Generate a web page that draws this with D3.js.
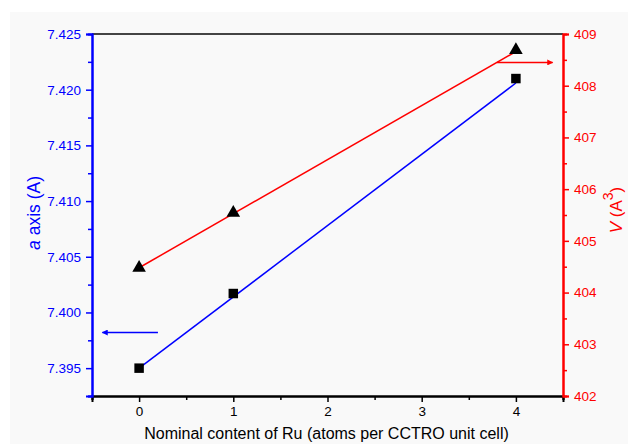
<!DOCTYPE html>
<html>
<head>
<meta charset="utf-8">
<script src="https://cdn.jsdelivr.net/npm/d3@7/dist/d3.min.js"></script>
<style>
  html, body { margin: 0; padding: 0; background: #ffffff; }
  svg { display: block; font-family: "Liberation Sans", Arial, sans-serif; }
</style>
</head>
<body>
<svg id="chart" width="628" height="444"></svg>
<script>
// Ru content (atoms per CCTRO unit cell)
const ruContent = [0, 1, 4];
// lattice parameter a (Å)
const aAxis = [7.3950, 7.4017, 7.4210];
// unit-cell volume V (Å^3)
const volume = [404.48, 405.54, 408.69];
// linear-fit end points over x = 0..4
const fitX = [0, 4];
const aFit = [7.3950, 7.4206];
const vFit = [404.48, 408.66];

const xTicks = [0, 1, 2, 3, 4];
const aTicks = [7.395, 7.400, 7.405, 7.410, 7.415, 7.420, 7.425];
const vTicks = [402, 403, 404, 405, 406, 407, 408, 409];

const BLUE = "#0000ff", RED = "#ff0000";
const svg = d3.select("#chart");

// panel background
svg.append("rect").attr("x", 10).attr("y", 12).attr("width", 618).attr("height", 432)
  .attr("fill", "#f9f9f9");

const L = 92, R = 563, T = 34, B = 396;
const x = d3.scaleLinear().domain([-0.5, 4.5]).range([L, R]);
const yA = d3.scaleLinear().domain([7.3925, 7.425]).range([B, T]);
const yV = d3.scaleLinear().domain([402, 409]).range([B, T]);

// top frame
svg.append("line").attr("x1", L).attr("x2", R).attr("y1", T).attr("y2", T)
  .attr("stroke", "#444").attr("stroke-width", 2);

function styleAxis(g, color) {
  g.select(".domain").attr("stroke", color).attr("stroke-width", 2);
  g.selectAll(".tick line").attr("stroke", color).attr("stroke-width", 1.5);
  g.selectAll(".tick text").attr("fill", color).style("font-size", "13.5px")
    .style("font-family", "Liberation Sans, Arial, sans-serif");
}

// bottom axis: minor then major ticks
const xMinor = d3.range(-0.5, 4.51, 0.5).filter(v => !xTicks.includes(v));
svg.append("g").attr("transform", `translate(0,${B})`)
  .call(d3.axisBottom(x).tickValues(xMinor).tickSize(4).tickFormat(""))
  .call(g => styleAxis(g, "#000"));
const gx = svg.append("g").attr("transform", `translate(0,${B})`)
  .call(d3.axisBottom(x).tickValues(xTicks).tickSize(6).tickPadding(4).tickFormat(d3.format("d")))
  .call(g => styleAxis(g, "#000"));
gx.selectAll(".tick text").attr("fill", "#000");

// left axis (a)
const aMinor = d3.range(0, 7).map(i => 7.3925 + i * 0.005);
svg.append("g").attr("transform", `translate(${L},0)`)
  .call(d3.axisLeft(yA).tickValues(aMinor).tickSize(4).tickFormat(""))
  .call(g => styleAxis(g, BLUE));
svg.append("g").attr("transform", `translate(${L},0)`)
  .call(d3.axisLeft(yA).tickValues(aTicks).tickSize(6).tickPadding(5).tickFormat(d3.format(".3f")))
  .call(g => styleAxis(g, BLUE));

// right axis (V)
const vMinor = d3.range(0, 7).map(i => 402.5 + i);
svg.append("g").attr("transform", `translate(${R},0)`)
  .call(d3.axisRight(yV).tickValues(vMinor).tickSize(4).tickFormat(""))
  .call(g => styleAxis(g, RED));
svg.append("g").attr("transform", `translate(${R},0)`)
  .call(d3.axisRight(yV).tickValues(vTicks).tickSize(6).tickPadding(5).tickFormat(d3.format("d")))
  .call(g => styleAxis(g, RED));

// fit lines
const fitLine = (ys, y) => d3.line().x((d, i) => x(fitX[i])).y((d) => y(d))(ys);
svg.append("path").attr("d", fitLine(aFit, yA)).attr("stroke", BLUE).attr("stroke-width", 1.5).attr("fill", "none");
svg.append("path").attr("d", fitLine(vFit, yV)).attr("stroke", RED).attr("stroke-width", 1.5).attr("fill", "none");

// markers
svg.append("g").selectAll("path").data(ruContent).join("path")
  .attr("d", d3.symbol(d3.symbolSquare, 90))
  .attr("transform", (d, i) => `translate(${x(d)},${yA(aAxis[i])})`)
  .attr("fill", "#000");
svg.append("g").selectAll("path").data(ruContent).join("path")
  .attr("d", d3.symbol(d3.symbolTriangle, 80))
  .attr("transform", (d, i) => `translate(${x(d)},${yV(volume[i])})`)
  .attr("fill", "#000");

// axis-pointing arrows
const defs = svg.append("defs");
[["ab", BLUE], ["ar", RED]].forEach(([id, c]) => {
  defs.append("marker").attr("id", id).attr("viewBox", "0 0 10 10").attr("refX", 9).attr("refY", 5)
    .attr("markerWidth", 11).attr("markerHeight", 6).attr("markerUnits", "userSpaceOnUse")
    .attr("orient", "auto")
    .append("path").attr("d", "M0,0L10,5L0,10Z").attr("fill", c);
});
svg.append("line").attr("x1", x(0.2)).attr("x2", x(-0.39)).attr("y1", yA(7.3982)).attr("y2", yA(7.3982))
  .attr("stroke", BLUE).attr("stroke-width", 1.5).attr("marker-end", "url(#ab)");
svg.append("line").attr("x1", x(3.8)).attr("x2", x(4.39)).attr("y1", yV(408.45)).attr("y2", yV(408.45))
  .attr("stroke", RED).attr("stroke-width", 1.5).attr("marker-end", "url(#ar)");

// axis titles
svg.append("text").attr("x", (L + R) / 2 - 1).attr("y", 439)
  .attr("text-anchor", "middle").style("font-size", "16px").attr("fill", "#000")
  .text("Nominal content of Ru (atoms per CCTRO unit cell)");

const tl = svg.append("text").attr("transform", `translate(40,${213}) rotate(-90)`)
  .attr("text-anchor", "middle").style("font-size", "17.5px").attr("fill", BLUE);
tl.append("tspan").style("font-style", "italic").text("a");
tl.append("tspan").text(" axis (A)");

const tr = svg.append("text").attr("transform", `translate(622,${210}) rotate(-90)`)
  .attr("text-anchor", "middle").style("font-size", "17px").attr("fill", RED);
tr.append("tspan").style("font-style", "italic").text("V");
tr.append("tspan").text(" (A");
tr.append("tspan").attr("dy", -9).style("font-size", "14px").text("3");
tr.append("tspan").attr("dy", 9).text(")");
</script>
</body>
</html>
